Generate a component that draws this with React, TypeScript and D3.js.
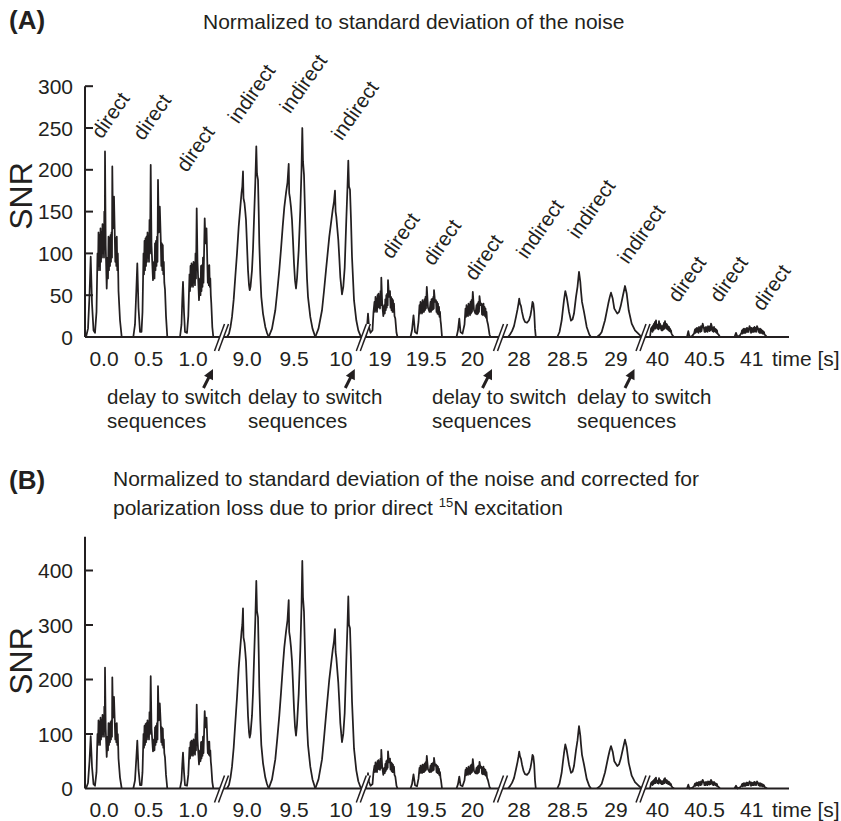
import React from 'react';
import * as d3 from 'd3';

// ---------- DATA ----------
const blockTimes = [0, 0.5, 1.0, 9.0, 9.5, 10, 19, 19.5, 20, 28, 28.5, 29, 40, 40.5, 41];
const tickLabels = ['0.0', '0.5', '1.0', '9.0', '9.5', '10', '19', '19.5', '20', '28', '28.5', '29', '40', '40.5', '41'];
const excitation = ['direct', 'direct', 'direct', 'indirect', 'indirect', 'indirect', 'direct', 'direct', 'direct',
  'indirect', 'indirect', 'indirect', 'direct', 'direct', 'direct'];
const segmentTimes = [[0, 1], [9, 10], [19, 20], [28, 29], [40, 41]];
// correction factor for polarization loss (panel B relative to panel A)
const polarizationCorrection = [1, 1, 1, 1.67, 1.67, 1.67, 1, 1, 1, 1.47, 1.47, 1.47, 1, 1, 1];
// annotation level (SNR, panel A) and spectral shift of the rotated labels
const labelLevel = [236, 234, 196, 254, 266, 234, 92, 84, 66, 92, 116, 86, 40, 40, 30];
const labelShift = [-2.3, -5.2, -6.3, -8.7, -4, 0.7, 11.7, 7, 2.5, 7.7, 10.8, 12, 20.8, 15.4, 11];
const yTicksA = [0, 50, 100, 150, 200, 250, 300];
const yTicksB = [0, 100, 200, 300, 400];

// spectra: [spectral offset, SNR] or [offset, upper envelope, lower envelope] for fast-oscillating parts
const s0_0 = [[-18, 0], [-16, 10], [-14.5, 50], [-13.3, 96], [-12, 40], [-10.5, 8], [-9, 5], [-7.5, 30],
  [-6.5, 100, 80], [-5.5, 125, 85], [-4.5, 122, 80], [-3.5, 130, 90], [-2.5, 125, 95], [-1.5, 135, 100], [-0.5, 130, 95], [0.3, 150, 110],
  [1, 222], [1.7, 110], [2.7, 58],
  [3.5, 95, 70], [4.5, 120, 80], [5.5, 118, 85], [6.5, 122, 90], [7.5, 125, 95],
  [8.3, 204], [9, 130], [10, 168],
  [10.8, 120, 90], [11.8, 118, 85], [12.8, 120, 80], [13.8, 100, 70],
  [14.5, 55], [16, 20], [17.7, 0]];
const s0_5 = [[-15.2, 0], [-13.5, 15], [-12.2, 55], [-11.2, 88], [-10, 35], [-8.5, 6], [-7, 6], [-6, 30],
  [-5, 100, 75], [-4, 115, 80], [-3, 118, 85], [-2, 120, 90], [-1, 125, 95], [0, 118, 90], [1, 140, 100],
  [2.2, 206], [3, 110], [4.5, 68],
  [5.5, 90, 70], [6.5, 112, 80], [7.5, 115, 85], [8.5, 120, 90],
  [9.5, 188], [10.3, 125], [11.3, 156],
  [12.3, 115, 85], [13.3, 112, 80], [14.3, 110, 75], [15.3, 90, 65],
  [16.5, 57], [17.5, 25], [18.8, 0]];
const s1_0 = [[-13, 0], [-11.5, 15], [-10.7, 45], [-10, 66], [-9, 30], [-8, 6], [-6, 5], [-4.7, 25],
  [-3.5, 75, 55], [-2.5, 85, 60], [-1.5, 88, 62], [-0.5, 86, 60], [0.5, 90, 65], [1.5, 88, 62], [2.5, 100, 70],
  [3.7, 154], [4.5, 90], [6, 44],
  [7, 70, 50], [8, 85, 55], [9, 86, 60], [10, 95, 65],
  [11.7, 142], [12.5, 112], [13.5, 130],
  [14.3, 90, 65], [15.3, 85, 62], [16.3, 86, 60], [17.3, 70, 50],
  [18.3, 40], [19.3, 12], [20.3, 0]];
const s9_0 = [[-20, 0], [-18, 4], [-16.5, 12], [-15, 24], [-13.3, 45], [-11.7, 72], [-10, 100], [-8.3, 132], [-6.7, 155],
  [-5.5, 172], [-4.7, 180], [-4, 198], [-3.5, 166], [-2.5, 160], [-1.7, 150], [-1, 140], [0, 110], [1, 80], [2, 62], [2.7, 56],
  [3.5, 60], [5, 80], [6, 105], [7, 140], [8.3, 185], [9.3, 228], [10, 195], [11, 188], [11.7, 150], [12.3, 112], [13.3, 75],
  [14.3, 48], [16, 28], [18.3, 12], [20, 5], [21.7, 0]];
const s9_5 = [[-25.3, 0], [-22, 10], [-18.7, 32], [-16.7, 55], [-14.7, 80], [-13, 105], [-11.3, 132], [-9.7, 155], [-8, 172],
  [-6.5, 185], [-5.3, 207], [-4.8, 172], [-4, 166], [-3, 155], [-2, 140], [-1, 115], [0, 88], [1, 68], [2, 58], [3, 70],
  [4.7, 104], [6.3, 152], [7.5, 200], [8.3, 250], [9, 210], [10, 194], [11, 150], [12, 104], [13, 70], [14, 48],
  [16.3, 24], [18.5, 10], [21.3, 0]];
const s10 = [[-25.7, 0], [-22.5, 10], [-19, 32], [-17, 55], [-15, 80], [-11.7, 120], [-8.3, 152], [-7, 162], [-6, 175],
  [-5.4, 150], [-4.7, 144], [-2.7, 116], [-1.7, 95], [-0.7, 72], [1, 51], [2.3, 60], [3.7, 83], [5.3, 140], [6.5, 180],
  [7.3, 211], [8, 180], [9, 176], [10, 140], [11, 96], [13, 44], [15.3, 20], [17.3, 8], [19.3, 2], [21, 0]];
const s19 = [[-14, 0], [-13, 12], [-12, 28], [-11, 12], [-9.5, 5], [-7.5, 8], [-6.5, 30],
  [-5.5, 42, 30], [-4.5, 48, 32], [-3.5, 45, 30], [-2.5, 50, 35], [-1.5, 52, 36], [-0.5, 48, 34], [0.5, 55, 38],
  [1.3, 71], [2.2, 40], [3.3, 25],
  [4.3, 38, 28], [5.3, 45, 32], [6.3, 50, 35], [7.2, 52, 38],
  [8, 68], [9, 48],
  [10, 55, 35], [11, 48, 32], [12, 46, 30], [13, 44, 30], [14, 40, 25],
  [15.3, 22], [16.5, 5], [17.5, 0]];
const s19_5 = [[-15.75, 0], [-14.25, 8], [-12.75, 26], [-11.25, 6], [-9.25, 4], [-7.75, 18],
  [-6.75, 38, 28], [-5.75, 42, 30], [-4.75, 40, 28], [-3.75, 44, 30], [-2.75, 42, 30], [-1.75, 45, 32], [-0.75, 48, 34],
  [0.55, 60], [1.75, 35], [3.25, 30],
  [4.25, 42, 30], [5.25, 45, 32], [6.25, 46, 33], [7.05, 48, 34],
  [7.75, 56], [8.75, 42],
  [9.75, 44, 30], [10.75, 42, 28], [11.75, 40, 27], [12.75, 36, 24], [13.75, 30, 20],
  [14.75, 15], [15.75, 0]];
const s20 = [[-16, 0], [-14.5, 8], [-13.2, 22], [-12, 6], [-10, 4], [-8, 15],
  [-7, 34, 24], [-6, 38, 26], [-5, 36, 25], [-4, 40, 28], [-3, 38, 26], [-2, 42, 28], [-1, 44, 30],
  [0.3, 54], [1.5, 32], [3, 28],
  [4, 38, 27], [5, 40, 28], [6, 42, 30],
  [7, 49], [8, 38],
  [9, 40, 27], [10, 38, 26], [11, 40, 27], [12, 36, 25], [13, 34, 23], [14, 30, 20],
  [15.5, 15], [17, 3], [18, 0]];
const s28 = [[-11, 0], [-9, 3], [-7, 7], [-5, 13], [-3, 24], [-1.5, 33], [-0.5, 40], [0.2, 46], [1, 40], [2, 37], [3, 30],
  [4.5, 22], [6, 18], [8, 17], [10, 20], [11.5, 26], [12.5, 33], [13.5, 42], [14.3, 40], [15.2, 30], [16, 10], [16.8, 0]];
const s28_5 = [[-10.2, 0], [-8, 6], [-5.8, 20], [-4.5, 34], [-3.5, 44], [-2.2, 55], [-0.8, 48], [0.5, 38], [1.5, 30],
  [3.5, 19.5], [5, 21], [6.5, 28], [8.5, 48], [10, 60], [11.5, 78], [12.8, 66], [13.5, 55], [14.5, 42], [16.5, 30],
  [19.2, 12], [21.8, 3], [23.5, 0]];
const s29 = [[-19, 0], [-16, 3], [-14.3, 6], [-11, 20], [-7.7, 40], [-6.2, 48], [-5, 53], [-3.3, 46], [-1.7, 34], [1.3, 28],
  [3, 30], [4.7, 37], [7, 50], [9, 61], [10.7, 52], [12.7, 32], [15.7, 16], [19, 8], [22.3, 4], [25.7, 0]];
const s40 = [[-7.5, 0], [-6.5, 10],
  [-5.5, 12, 6], [-4.5, 14, 8], [-3.5, 16, 10], [-2.5, 18, 10], [-1.5, 20, 12], [-0.5, 15, 10], [0.5, 14, 9], [1.5, 19, 11],
  [2.5, 16, 10], [3.5, 14, 8], [4.5, 12, 8], [5.5, 14, 9], [6.5, 17, 10], [7.5, 19, 12], [8.5, 16, 10], [9.5, 15, 9],
  [10.5, 13, 8], [11.5, 12, 7], [12.5, 10, 6], [13.5, 8, 4],
  [15, 2], [16.5, 0]];
const s40_5 = [[-17.6, 0], [-16.3, 7], [-15.1, 0], [-12.6, 1], [-10.6, 4],
  [-9.6, 9, 5], [-8.6, 10, 6], [-7.6, 11, 6], [-6.6, 10, 5], [-5.6, 12, 7], [-4.6, 11, 6], [-3.6, 13, 7],
  [-1.9, 16],
  [-0.6, 10, 6], [0.4, 11, 6], [1.4, 12, 7], [2.4, 11, 6], [3.4, 13, 8], [4.4, 12, 7], [5.4, 13, 8],
  [6.4, 16],
  [7.4, 12, 7], [8.4, 11, 6], [9.4, 12, 7], [10.4, 10, 6], [11.4, 9, 5], [12.4, 8, 4],
  [13.9, 3], [15.4, 0]];
const s41 = [[-17.2, 0], [-15.7, 5], [-14.2, 0], [-11.7, 2], [-10.2, 5],
  [-9.7, 8, 4], [-8.7, 9, 5], [-7.7, 10, 5], [-6.7, 9, 5], [-5.7, 10, 6], [-4.7, 11, 6], [-3.7, 10, 6],
  [-2.2, 13],
  [-1.2, 10, 5], [-0.2, 11, 6], [0.8, 10, 6], [1.8, 11, 6], [2.8, 12, 7], [3.8, 11, 6],
  [5.3, 13],
  [6.3, 10, 6], [7.3, 9, 5], [8.3, 10, 5], [9.3, 9, 5], [10.3, 8, 4], [11.3, 7, 4], [12.3, 6, 3],
  [13.8, 2], [15.3, 0]];
const spectra = [s0_0, s0_5, s1_0, s9_0, s9_5, s10, s19, s19_5, s20, s28, s28_5, s29, s40, s40_5, s41];

// ---------- LAYOUT ----------
const FONT = "'Liberation Sans', Arial, Helvetica, sans-serif";
const INK = '#231f20';
const SEG_RANGE = [[104, 193], [247, 341], [380, 472.5], [519, 616], [657.5, 751.7]];
const AXIS_X = 85;
const AXIS_END = 789;
const BREAK_X = [221.5, 363.3, 500.5, 643];
const NOTE_X = [107, 248, 432, 577];

type Pt = number[];

function spectrumPath(points: Pt[], cx: number, specX: d3.ScaleLinear<number, number>, ys: d3.ScaleLinear<number, number>, factor: number) {
  const p = d3.path();
  points.forEach((pt, i) => {
    const x = cx + specX(pt[0]);
    const y = ys(pt[1] * factor);
    if (i === 0) p.moveTo(x, y); else p.lineTo(x, y);
    if (pt.length > 2) p.lineTo(x + 0.5, ys(pt[2] * factor));
  });
  return p.toString();
}

function Panel({ ys, ticks, axisTop, labelBaseline, factors, showLabels }: any) {
  const segScales = segmentTimes.map((d, i) => d3.scaleLinear().domain(d).range(SEG_RANGE[i]));
  const specX = d3.scaleLinear().domain([-1, 1]).range([-1, 1]);
  const y0 = ys(0);
  return (
    <g>
      {/* spectra */}
      {spectra.map((pts, i) => {
        const sc = segScales[Math.floor(i / 3)];
        return (
          <path key={'s' + i} d={spectrumPath(pts as Pt[], sc(blockTimes[i]), specX, ys, factors[i])}
            fill="none" stroke={INK} strokeWidth={1.75} strokeLinejoin="round" />
        );
      })}
      {/* axes */}
      <line x1={AXIS_X} x2={AXIS_END} y1={y0} y2={y0} stroke={INK} strokeWidth={2} />
      <line x1={AXIS_X} x2={AXIS_X} y1={y0} y2={ys(axisTop)} stroke={INK} strokeWidth={2} />
      {ticks.map((t: number) => (
        <g key={'yt' + t}>
          {t > 0 && <line x1={AXIS_X} x2={AXIS_X + 8} y1={ys(t)} y2={ys(t)} stroke={INK} strokeWidth={2} />}
          <text x={73} y={ys(t)} dy="0.36em" textAnchor="end" fontSize={21} fontFamily={FONT} fill={INK}>{t}</text>
        </g>
      ))}
      {/* break marks */}
      {BREAK_X.map((bx, i) => {
        const l = (k: number) => [[bx - 7 + 4 * k, y0 + 14], [bx + 3 + 4 * k, y0 - 13]];
        const a = l(0), b = l(1);
        return (
          <g key={'b' + i}>
            <polygon points={`${a[0][0]},${a[0][1]} ${a[1][0]},${a[1][1]} ${b[1][0]},${b[1][1]} ${b[0][0]},${b[0][1]}`} fill="#fff" />
            <line x1={a[0][0]} y1={a[0][1]} x2={a[1][0]} y2={a[1][1]} stroke={INK} strokeWidth={1.5} />
            <line x1={b[0][0]} y1={b[0][1]} x2={b[1][0]} y2={b[1][1]} stroke={INK} strokeWidth={1.5} />
          </g>
        );
      })}
      {/* x tick labels */}
      {blockTimes.map((t, i) => (
        <text key={'xt' + i} x={segScales[Math.floor(i / 3)](t)} y={labelBaseline} textAnchor="middle"
          fontSize={21} fontFamily={FONT} fill={INK}>{tickLabels[i]}</text>
      ))}
      <text x={772} y={labelBaseline} fontSize={21} fontFamily={FONT} fill={INK}>time [s]</text>
      {/* excitation labels */}
      {showLabels && blockTimes.map((t, i) => {
        const x = segScales[Math.floor(i / 3)](t) + specX(labelShift[i]);
        const y = ys(labelLevel[i]);
        return (
          <text key={'ex' + i} x={x} y={y} transform={`rotate(-55 ${x} ${y})`} fontSize={20.5}
            fontFamily={FONT} fill={INK}>{excitation[i]}</text>
        );
      })}
    </g>
  );
}

export default function App() {
  const yA = d3.scaleLinear().domain([0, 300]).range([337, 86.2]);
  const yB = d3.scaleLinear().domain([0, 400]).range([788.5, 570.5]);
  const ones = blockTimes.map(() => 1);

  return (
    <svg width={841} height={821} style={{ position: 'absolute', left: 0, top: 0, background: '#fff' }}>
      <rect x={0} y={0} width={841} height={821} fill="#fff" />
      {/* Panel A */}
      <text x={9} y={29} fontSize={26} fontWeight="bold" fontFamily={FONT} fill={INK}>(A)</text>
      <text x={203} y={29} fontSize={21} fontFamily={FONT} fill={INK}>Normalized to standard deviation of the noise</text>
      <text transform="translate(32,196) rotate(-90)" textAnchor="middle" fontSize={32} fontFamily={FONT} fill={INK}>SNR</text>
      <Panel ys={yA} ticks={yTicksA} axisTop={300} labelBaseline={365.5} factors={ones} showLabels={true} />
      {/* delay notes */}
      {BREAK_X.map((bx, i) => {
        const tipX = bx - 8.5, tipY = 369;
        const tailX = tipX - 9.5, tailY = tipY + 19;
        const dx = tipX - tailX, dy = tipY - tailY;
        const len = Math.hypot(dx, dy);
        const ux = dx / len, uy = dy / len;
        const hl = 10, hw = 5;
        const bxp = tipX - ux * hl, byp = tipY - uy * hl;
        return (
          <g key={'n' + i}>
            <line x1={tailX} y1={tailY} x2={bxp + ux * 1} y2={byp + uy * 1} stroke={INK} strokeWidth={3} />
            <polygon points={`${tipX},${tipY} ${bxp - uy * hw},${byp + ux * hw} ${bxp + uy * hw},${byp - ux * hw}`} fill={INK} />
            <text x={NOTE_X[i]} y={404} fontSize={20.5} fontFamily={FONT} fill={INK}>delay to switch</text>
            <text x={NOTE_X[i]} y={428} fontSize={20.5} fontFamily={FONT} fill={INK}>sequences</text>
          </g>
        );
      })}
      {/* Panel B */}
      <text x={9} y={489} fontSize={26} fontWeight="bold" fontFamily={FONT} fill={INK}>(B)</text>
      <text x={113} y={486} fontSize={21} fontFamily={FONT} fill={INK}>Normalized to standard deviation of the noise and corrected for</text>
      <text x={113} y={515} fontSize={21} fontFamily={FONT} fill={INK}>
        polarization loss due to prior direct <tspan fontSize={13} dy={-8}>15</tspan><tspan dy={8}>N excitation</tspan>
      </text>
      <text transform="translate(32,661) rotate(-90)" textAnchor="middle" fontSize={32} fontFamily={FONT} fill={INK}>SNR</text>
      <Panel ys={yB} ticks={yTicksB} axisTop={462} labelBaseline={817} factors={polarizationCorrection} showLabels={false} />
    </svg>
  );
}
